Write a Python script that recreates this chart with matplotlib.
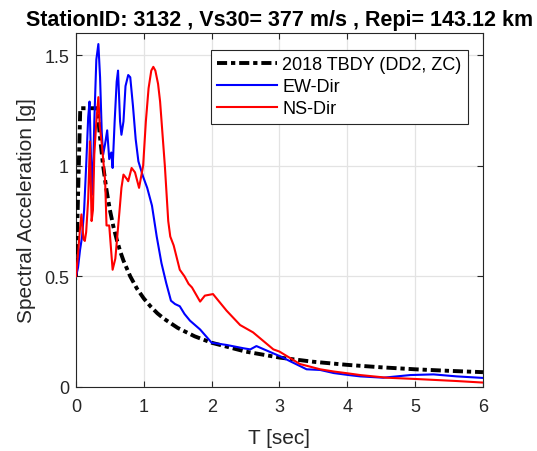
import matplotlib
matplotlib.use('Agg')
import matplotlib.pyplot as plt

plt.rcParams['font.family'] = ['Liberation Sans', 'DejaVu Sans']

# 2018 TBDY design spectrum (DD2, ZC)
T_design = [0.0, 0.063, 0.317, 0.35, 0.4, 0.45, 0.5, 0.55, 0.6, 0.65, 0.7, 0.8, 0.9,
            1.0, 1.1, 1.2, 1.3, 1.5, 1.75, 2.0, 2.5, 3.0, 3.5, 4.0, 4.5, 5.0, 5.5, 6.0]
Sa_design = [0.50, 1.26, 1.26, 1.14, 1.0, 0.89, 0.80, 0.727, 0.667, 0.615, 0.571, 0.50, 0.444,
             0.40, 0.364, 0.333, 0.308, 0.267, 0.229, 0.20, 0.16, 0.133, 0.114, 0.10, 0.089, 0.08, 0.073, 0.067]

# EW component
T_ew = [0.0, 0.03, 0.06, 0.09, 0.12, 0.15, 0.18, 0.20, 0.22, 0.245, 0.27, 0.30, 0.33, 0.355,
        0.38, 0.40, 0.43, 0.46, 0.49, 0.52, 0.54, 0.57, 0.60, 0.62, 0.65, 0.67, 0.70, 0.73,
        0.77, 0.80, 0.84, 0.88, 0.92, 0.99, 1.05, 1.12, 1.19, 1.26, 1.33, 1.40, 1.46, 1.53,
        1.60, 1.68, 1.83, 2.0, 2.22, 2.47, 2.57, 2.66, 2.81, 3.0, 3.2, 3.4, 3.6, 3.8, 4.02,
        4.19, 4.53, 4.93, 5.27, 5.61, 6.0]
Sa_ew = [0.50, 0.54, 0.62, 0.68, 0.80, 1.00, 1.22, 1.29, 1.05, 0.87, 1.20, 1.48, 1.55, 1.40,
         1.15, 1.05, 1.10, 1.16, 1.03, 1.06, 0.99, 1.20, 1.38, 1.43, 1.20, 1.14, 1.20, 1.36,
         1.41, 1.40, 1.27, 1.12, 1.02, 0.95, 0.90, 0.82, 0.68, 0.56, 0.47, 0.39, 0.375, 0.365,
         0.33, 0.30, 0.26, 0.20, 0.19, 0.175, 0.17, 0.185, 0.165, 0.14, 0.11, 0.08, 0.077, 0.063, 0.054,
         0.048, 0.042, 0.054, 0.057, 0.048, 0.041]

# NS component
T_ns = [0.0, 0.03, 0.06, 0.08, 0.11, 0.13, 0.15, 0.18, 0.205, 0.23, 0.25, 0.27, 0.30, 0.33,
        0.35, 0.38, 0.43, 0.45, 0.49, 0.54, 0.58, 0.64, 0.67, 0.70, 0.75, 0.77, 0.82, 0.87,
        0.93, 0.99, 1.03, 1.07, 1.11, 1.14, 1.17, 1.21, 1.24, 1.31, 1.36, 1.39, 1.44, 1.53,
        1.60, 1.66, 1.71, 1.83, 1.90, 2.02, 2.10, 2.22, 2.42, 2.61, 2.91, 3.0, 3.3, 3.6, 3.8,
        4.0, 4.19, 4.58, 5.02, 5.61, 6.0]
Sa_ns = [0.50, 0.60, 0.72, 0.78, 0.67, 0.66, 0.70, 0.85, 1.11, 0.75, 0.80, 1.05, 1.20, 1.31,
         1.18, 1.10, 0.93, 0.73, 0.73, 0.53, 0.58, 0.79, 0.90, 0.96, 0.94, 0.93, 0.99, 0.97,
         0.90, 1.00, 1.20, 1.35, 1.43, 1.447, 1.43, 1.37, 1.29, 1.00, 0.75, 0.68, 0.64, 0.53,
         0.50, 0.466, 0.45, 0.386, 0.413, 0.42, 0.39, 0.345, 0.28, 0.247, 0.17, 0.16, 0.104, 0.08, 0.07,
         0.062, 0.054, 0.042, 0.036, 0.027, 0.02]

axis_gray = '#262626'

fig = plt.figure(figsize=(5.37, 4.52), dpi=100)
ax = fig.add_axes([0.1415, 0.1416, 0.7579, 0.7832])

ax.plot(T_design, Sa_design, color='black', lw=2.8, linestyle=(0, (2.6, 1.0, 1.1, 1.0)),
        label='2018 TBDY (DD2, ZC)', zorder=3)
ax.plot(T_ew, Sa_ew, color='#0000ff', lw=1.5, label='EW-Dir', zorder=4)
ax.plot(T_ns, Sa_ns, color='#ff0000', lw=1.5, label='NS-Dir', zorder=5)

ax.set_xlim(0, 6)
ax.set_ylim(0, 1.6)
ax.set_xticks([0, 1, 2, 3, 4, 5, 6])
ax.set_yticks([0, 0.5, 1, 1.5])
ax.set_yticklabels(['0', '0.5', '1', '1.5'])
ax.grid(True, color='#e3e3e3', lw=0.9)
ax.set_axisbelow(True)

ax.tick_params(direction='in', top=True, right=True, length=4, width=0.8,
               labelsize=13, colors=axis_gray)
ax.tick_params(axis='x', pad=8)
ax.tick_params(axis='y', pad=5)
for s in ax.spines.values():
    s.set_color(axis_gray)
    s.set_linewidth(0.8)

ax.set_xlabel('T [sec]', fontsize=15, color=axis_gray, labelpad=9)
ax.set_ylabel('Spectral Acceleration [g]', fontsize=15, color=axis_gray, labelpad=6)
ax.set_title('StationID: 3132 , Vs30= 377 m/s , Repi= 143.12 km',
             fontsize=15.5, fontweight='bold', pad=6)

leg = ax.legend(loc='upper right', bbox_to_anchor=(0.963, 0.952), borderaxespad=0,
                fontsize=13, handlelength=3.3, handletextpad=0.3, labelspacing=0.28,
                borderpad=0.35, fancybox=False, framealpha=1, edgecolor=axis_gray)
leg.get_frame().set_linewidth(0.8)

fig.savefig('out.png', dpi=100)
